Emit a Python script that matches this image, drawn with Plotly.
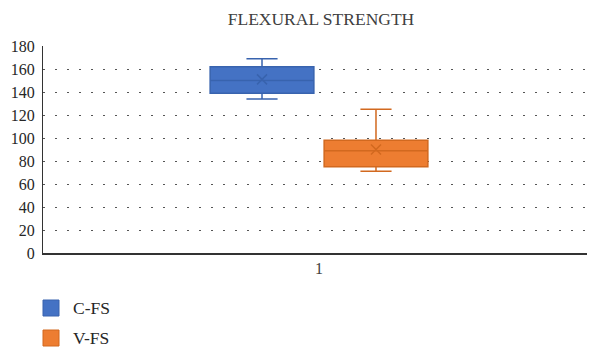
import plotly.graph_objects as go

categories = ["1"]
series_names = ["C-FS", "V-FS"]
q1 = [139, 75]
median = [150, 89]
q3 = [162, 98]
lower = [134, 71]
upper = [169, 125]
means = [151, 90]
fill_colors = ["#4472C4", "#ED7D31"]
line_colors = ["#3863AE", "#D2691F"]
y_ticks = [0, 20, 40, 60, 80, 100, 120, 140, 160, 180]

FONT = "Liberation Serif"
# the page body has an 8px default margin; size the figure so it fills the rest of the window
OFF = 8
W, H = 595 - OFF, 347 - OFF
ML, MR, MT, MB = 43 - OFF, 0, 46 - OFF, 347 - 253
PW, PH = W - ML - MR, H - MT - MB


def px_x(px):
    return (px - OFF - ML) / PW


def px_y(py):
    return (H - MB - (py - OFF)) / PH


fig = go.Figure()
for i, name in enumerate(series_names):
    fig.add_trace(go.Box(
        name=name,
        x=categories,
        q1=[q1[i]], median=[median[i]], q3=[q3[i]],
        lowerfence=[lower[i]], upperfence=[upper[i]],
        fillcolor=fill_colors[i],
        line=dict(color=line_colors[i], width=1.5),
        whiskerwidth=0.3,
        offsetgroup=name,
        boxpoints=False,
        hoverinfo="skip",
        showlegend=False,
    ))
for i, name in enumerate(series_names):
    fig.add_trace(go.Scatter(
        x=categories, y=[means[i]],
        mode="markers",
        marker=dict(symbol="x-thin-open", size=10, color=line_colors[i],
                    line=dict(color=line_colors[i], width=1.5)),
        offsetgroup=name,
        showlegend=False,
        hoverinfo="skip",
    ))

# legend drawn as swatches + text (below the plot, left)
legend_rows = [308, 338]
shapes, annotations = [], []
for i, name in enumerate(series_names):
    cy = legend_rows[i]
    shapes.append(dict(type="rect", xref="paper", yref="paper",
                       x0=px_x(43), x1=px_x(59), y0=px_y(cy - 8), y1=px_y(cy + 8),
                       fillcolor=fill_colors[i], line=dict(color=line_colors[i], width=1)))
    annotations.append(dict(xref="paper", yref="paper", x=px_x(71), y=px_y(cy),
                            xanchor="left", yanchor="middle", showarrow=False, text=name,
                            font=dict(family=FONT, size=17.5, color="#262626")))

fig.update_layout(
    width=W, height=H,
    margin=dict(l=ML, r=MR, t=MT, b=MB),
    paper_bgcolor="white", plot_bgcolor="white",
    boxmode="group", boxgap=0.587, boxgroupgap=0.09,
    scattermode="group", scattergap=0.587,
    title=dict(text="FLEXURAL STRENGTH", x=(321 - OFF) / W, xanchor="center",
               y=1 - (19 - OFF) / H, yanchor="middle",
               font=dict(family=FONT, size=17.5, color="#404040")),
    font=dict(family=FONT, size=16, color="#262626"),
    showlegend=False,
    shapes=shapes,
    annotations=annotations,
)
fig.update_xaxes(type="category", range=[-0.5, 0.5], showline=True, linecolor="#333333", linewidth=1.5,
                 showgrid=False, ticks="", tickfont=dict(family=FONT, size=16, color="#404040"))
fig.update_yaxes(range=[0, 180], tickvals=y_ticks, showline=True, linecolor="#333333", linewidth=1,
                 showgrid=True, gridcolor="#555555", gridwidth=1, griddash="2px,10px",
                 zeroline=False, ticks="", ticklabelstandoff=4,
                 tickfont=dict(family=FONT, size=16, color="#262626"))

fig.write_html("out.html")
